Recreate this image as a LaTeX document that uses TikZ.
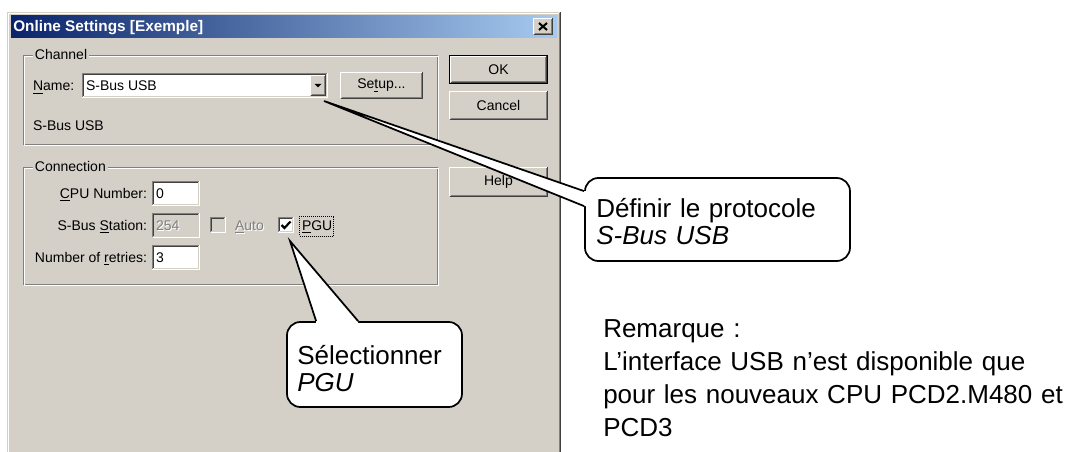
\documentclass[tikz,border=0pt]{standalone}
\usepackage{fontspec}
\setmainfont{Liberation Sans}
\usetikzlibrary{calc}

\definecolor{winbg}{HTML}{D4D0C8}
\definecolor{wshadow}{HTML}{808080}
\definecolor{wdark}{HTML}{404040}
\definecolor{titleA}{HTML}{0A246A}
\definecolor{titleB}{HTML}{A6CAF0}

\newcommand\uifont{\fontsize{10.5}{12.6}\selectfont}
\newcommand\titlefont{\fontsize{11.5}{13}\selectfont\bfseries}
\newcommand\callfont{\fontsize{19.5}{20.25}\selectfont}
\newcommand\notefont{\fontsize{19.5}{24.75}\selectfont}

\tikzset{
  % 3D edge: outer top-left, outer bottom-right, inner top-left, inner bottom-right
  bevel/.style n args={4}{path picture={
      \draw[#3,line width=.75pt] ([xshift=1.125pt,yshift=1.125pt]path picture bounding box.south west) |- ([xshift=-1.125pt,yshift=-1.125pt]path picture bounding box.north east);
      \draw[#4,line width=.75pt] ([xshift=1.125pt,yshift=1.125pt]path picture bounding box.south west) -| ([xshift=-1.125pt,yshift=-1.125pt]path picture bounding box.north east);
      \draw[#1,line width=.75pt] ([xshift=.375pt,yshift=.375pt]path picture bounding box.south west) |- ([xshift=-.375pt,yshift=-.375pt]path picture bounding box.north east);
      \draw[#2,line width=.75pt] ([xshift=.375pt,yshift=.375pt]path picture bounding box.south west) -| ([xshift=-.375pt,yshift=-.375pt]path picture bounding box.north east);
  }},
  ui/.style={font=\uifont, inner sep=0pt, outer sep=0pt},
  button/.style={ui, fill=winbg, bevel={white}{wdark}{winbg}{wshadow}},
  field/.style={ui, fill=white, bevel={wshadow}{white}{wdark}{winbg}},
  dfield/.style={ui, fill=winbg, bevel={wshadow}{white}{wdark}{winbg}},
  grouplabel/.style={ui, fill=winbg, inner xsep=1.5pt, anchor=base west},
  calloutbox/.style={draw=black, line width=1.3pt, fill=white, rounded corners=10pt, inner sep=0pt},
  calloutline/.style={draw=black, line width=1.3pt},
  calltext/.style={font=\callfont, inner sep=0pt, anchor=base west, text width=190pt, align=left},
}

\begin{document}
\begin{tikzpicture}[x=0.75pt, y=-0.75pt]
\useasboundingbox[fill=white] (0,0) rectangle (1079,452);

% dialog window
\fill[winbg] (7,12) rectangle (561,452);
\draw[white, line width=.75pt] (8.5,453) -- (8.5,13.5) -- (559,13.5);
\draw[wshadow, line width=.75pt] (559.5,13) -- (559.5,453);
\draw[wdark, line width=.75pt] (560.5,12) -- (560.5,453);

% title bar
\shade[left color=titleA, right color=titleB] (11,16) rectangle (557,38);
\node[font=\titlefont, text=white, inner sep=0pt, anchor=base west] (title) at (13,32) {Online Settings [Exemple]};
\node[button, minimum width=20*0.75pt, minimum height=17*0.75pt] (close) at (543,26.5) {};
\draw[line width=1.5pt] ($(close.center)+(-4,-3.5)$) -- ($(close.center)+(4,3.5)$);
\draw[line width=1.5pt] ($(close.center)+(-4,3.5)$) -- ($(close.center)+(4,-3.5)$);

% group "Channel"
\draw[wshadow, line width=.75pt] (23.5,55.5) rectangle (437.5,144.5);
\draw[white, line width=.75pt] (24.5,56.5) rectangle (438.5,145.5);
\node[grouplabel] (chlabel) at (33,59.5) {Channel};
\node[ui, anchor=base west] (namelabel) at (33,91) {\underline{N}ame:};
\node[field, minimum width=246*0.75pt, minimum height=25*0.75pt] (combo) at (205,85.5) {};
\node[ui, anchor=base west] (combotext) at (86,91) {S-Bus USB};
\node[button, minimum width=16*0.75pt, minimum height=21*0.75pt] (drop) at (318,85.5) {};
\fill ($(drop.center)+(-3.5,-1.5)$) -- ($(drop.center)+(3.5,-1.5)$) -- ($(drop.center)+(0,2)$) -- cycle;
\node[button, minimum width=83*0.75pt, minimum height=27*0.75pt] (setup) at (381.5,85.5) {Se\underline{t}up...};
\node[ui, anchor=base west] (chstatic) at (33,131) {S-Bus USB};

% dialog buttons
\node[button, minimum width=97*0.75pt, minimum height=27*0.75pt] (ok) at (498.5,69.5) {OK};
\draw[black, line width=.75pt] ([shift={(-.375pt,.375pt)}]ok.north west) rectangle ([shift={(.375pt,-.375pt)}]ok.south east);
\node[button, minimum width=99*0.75pt, minimum height=29*0.75pt] (cancel) at (498.5,105.5) {Cancel};
\node[button, minimum width=99*0.75pt, minimum height=30*0.75pt] (help) at (498.5,182) {Help};

% group "Connection"
\draw[wshadow, line width=.75pt] (23.5,167.5) rectangle (437.5,284.5);
\draw[white, line width=.75pt] (24.5,168.5) rectangle (438.5,285.5);
\node[grouplabel] (cnlabel) at (33,171.5) {Connection};

\node[ui, anchor=base east] (cpulabel) at (147,198.5) {\underline{C}PU Number:};
\node[field, minimum width=48*0.75pt, minimum height=25*0.75pt] (cpu) at (176,193.5) {};
\node[ui, anchor=base west] (cputext) at (156,198.5) {0};

\node[ui, anchor=base east] (stlabel) at (147,230.5) {S-Bus \underline{S}tation:};
\node[dfield, minimum width=48*0.75pt, minimum height=25*0.75pt] (station) at (176,225.5) {};
\node[ui, anchor=base west, text=white] at (157,231.5) {254};
\node[ui, anchor=base west, text=wshadow] (sttext) at (156,230.5) {254};

\node[dfield, minimum width=16*0.75pt, minimum height=16*0.75pt] (autobox) at (218,225) {};
\node[ui, anchor=base west, text=white] at (236,231.5) {\underline{A}uto};
\node[ui, anchor=base west, text=wshadow] (autotext) at (235,230.5) {\underline{A}uto};

\node[field, minimum width=16*0.75pt, minimum height=16*0.75pt] (pgubox) at (286,225) {};
\draw[line width=1.6pt, line join=miter] ($(pgubox.center)+(-4.5,0)$) -- ($(pgubox.center)+(-1.5,3)$) -- ($(pgubox.center)+(4.5,-3.5)$);
\node[ui, anchor=base west] (pgutext) at (302,230.5) {\underline{P}GU};
\draw[dash pattern=on .75pt off .75pt, line width=.75pt] (299.5,216.5) rectangle (333.5,236.5);

\node[ui, anchor=base east] (retlabel) at (147,262.5) {Number of \underline{r}etries:};
\node[field, minimum width=48*0.75pt, minimum height=25*0.75pt] (retries) at (176,257.5) {};
\node[ui, anchor=base west] (rettext) at (156,262.5) {3};

% callout: protocol
\coordinate (tip1) at (324,101);
\node[calloutbox, minimum width=265*0.75pt, minimum height=83*0.75pt] (c1) at (717.5,219.5) {};
\coordinate (c1a) at ($(c1.north west)+(0,14)$);
\coordinate (c1b) at ($(c1.north west)+(0,29)$);
\fill[white] (c1a) -- (tip1) -- (c1b) -- ($(c1b)+(4,0)$) -- ($(c1a)+(4,0)$) -- cycle;
\draw[calloutline] (c1a) -- (tip1) -- (c1b);
\node[calltext] (c1text) at (596,218) {Définir le protocole\\ \textit{S-Bus USB}};

% callout: PGU
\coordinate (tip2) at (290,241);
\node[calloutbox, minimum width=175*0.75pt, minimum height=85*0.75pt] (c2) at (374.5,364.5) {};
\coordinate (c2a) at ($(c2.north west)+(30,0)$);
\coordinate (c2b) at ($(c2.north west)+(72,0)$);
\fill[white] (c2a) -- (tip2) -- (c2b) -- ($(c2b)+(0,4)$) -- ($(c2a)+(0,4)$) -- cycle;
\draw[calloutline] (c2a) -- (tip2) -- (c2b);
\node[calltext] (c2text) at (297,365) {Sélectionner\\ \textit{PGU}};

% remark
\node[font=\notefont, inner sep=0pt, anchor=base west, text width=350pt, align=left] (remark) at (603,338)
  {Remarque :\\ L’interface USB n’est disponible que\\ pour les nouveaux CPU PCD2.M480 et\\ PCD3};
\end{tikzpicture}
\end{document}
